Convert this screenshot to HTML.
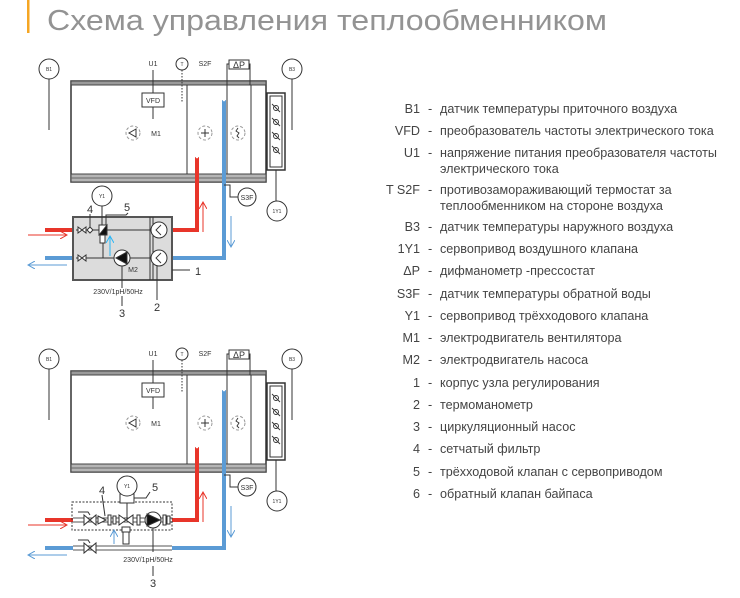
<!DOCTYPE html>
<html><head><meta charset="utf-8"><style>
html,body{margin:0;padding:0;background:#fff;}
svg{display:block;font-family:"Liberation Sans",sans-serif;}
</style></head><body>
<svg width="740" height="598" viewBox="0 0 740 598" xmlns="http://www.w3.org/2000/svg">
<defs>
<marker id="arR" markerWidth="8" markerHeight="8" refX="7" refY="4" orient="auto" markerUnits="userSpaceOnUse"><path d="M0,0 L7,4 L0,8" fill="none" stroke="#e8352a" stroke-width="1"/></marker>
<marker id="arB" markerWidth="8" markerHeight="8" refX="7" refY="4" orient="auto" markerUnits="userSpaceOnUse"><path d="M0,0 L7,4 L0,8" fill="none" stroke="#5b9bd5" stroke-width="1"/></marker>
<marker id="arC" markerWidth="8" markerHeight="8" refX="7" refY="4" orient="auto" markerUnits="userSpaceOnUse"><path d="M0,0 L7,4 L0,8" fill="none" stroke="#29b6f6" stroke-width="1"/></marker>
<g id="ahu" fill="none" stroke="#333" stroke-width="1">
 <circle cx="49" cy="69" r="10"/><line x1="49" y1="79" x2="49" y2="130"/>
 <circle cx="292" cy="69" r="10"/><line x1="292" y1="79" x2="292" y2="130"/>
 <rect x="71" y="81" width="195" height="101" stroke-width="1.5"/>
 <rect x="71" y="81" width="195" height="4" fill="#9a9a9a" stroke="#444"/>
 <rect x="71" y="174" width="195" height="8" fill="#b5b5b5" stroke="#444"/>
 <line x1="71" y1="178" x2="266" y2="178" stroke="#666"/>
 <line x1="187" y1="85" x2="187" y2="174"/>
 <line x1="227" y1="85" x2="227" y2="174"/>
 <line x1="251" y1="85" x2="251" y2="174"/>
 <rect x="267" y="93" width="18" height="77" stroke-width="1.5"/>
 <rect x="270" y="96" width="12" height="71"/>
 <g stroke-width="0.9">
  <circle cx="276" cy="108" r="2.5"/><line x1="272" y1="104" x2="280" y2="112"/>
  <circle cx="276" cy="122" r="2.5"/><line x1="272" y1="118" x2="280" y2="126"/>
  <circle cx="276" cy="136" r="2.5"/><line x1="272" y1="132" x2="280" y2="140"/>
  <circle cx="276" cy="150" r="2.5"/><line x1="272" y1="146" x2="280" y2="154"/>
 </g>
 <line x1="276" y1="170" x2="276" y2="201"/><circle cx="277" cy="211" r="10"/>
 <line x1="153" y1="70" x2="153" y2="93"/>
 <rect x="142" y="93" width="22" height="14"/>
 <line x1="153" y1="107" x2="153" y2="119"/>
 <circle cx="182" cy="64" r="6"/>
 <line x1="182" y1="70" x2="182" y2="103" stroke-dasharray="1.5,1.5"/>
 <rect x="229" y="60" width="20" height="9"/>
 <polyline points="229,64 227,64 227,85"/><polyline points="249,64 250,64 250,85"/>
 <circle cx="133" cy="133" r="7" stroke="#999" stroke-dasharray="3,2"/>
 <path d="M136,129 L129,133 L136,137 Z" stroke="#333"/>
 <circle cx="205" cy="133" r="7" stroke="#999" stroke-dasharray="3,2"/>
 <path d="M205,129 V137 M201,133 H209"/>
 <circle cx="238" cy="133" r="7" stroke="#999" stroke-dasharray="3,2"/>
 <path d="M238,128 l-2,3 l3,2 l-2,3 l2,2" stroke-width="0.9"/>
 <path d="M197,157 V230 H172" stroke="#e8352a" stroke-width="4"/>
 <path d="M224,100 V258 H172" stroke="#5b9bd5" stroke-width="4"/>
 <circle cx="197" cy="157" r="1.3" fill="#fff" stroke="none"/>
 <circle cx="224" cy="100" r="1.3" fill="#fff" stroke="none"/>
 <polyline points="224,185 230,185 230,197 238,197"/>
 <circle cx="247" cy="197" r="9"/>
 <line x1="203" y1="232" x2="203" y2="202" stroke="#e8352a" marker-end="url(#arR)"/>
 <line x1="231" y1="216" x2="231" y2="247" stroke="#5b9bd5" marker-end="url(#arB)"/>
 <line x1="28" y1="235" x2="67" y2="235" stroke="#e8352a" marker-end="url(#arR)"/>
 <line x1="67" y1="265" x2="28" y2="265" stroke="#5b9bd5" marker-end="url(#arB)"/>
 <line x1="45" y1="230" x2="73" y2="230" stroke="#e8352a" stroke-width="4"/>
 <line x1="45" y1="258" x2="73" y2="258" stroke="#5b9bd5" stroke-width="4"/>
</g>
</defs>
<rect x="27" y="0" width="2.5" height="33" fill="#f5a623"/>
<text x="47" y="30" font-size="29" fill="#939393" textLength="560" lengthAdjust="spacingAndGlyphs">Схема управления теплообменником</text>

<use href="#ahu"/>
<use href="#ahu" transform="translate(0,290)"/>

<g font-size="7" fill="#333" text-anchor="middle">
 <text x="49" y="71" font-size="5">B1</text><text x="292" y="71" font-size="5">B3</text>
 <text x="153" y="66">U1</text><text x="153" y="103">VFD</text><text x="182" y="66" font-size="5">T</text>
 <text x="205" y="66">S2F</text><text x="239" y="68" font-size="9">ΔP</text>
 <text x="156" y="136">M1</text><text x="247" y="200">S3F</text><text x="277" y="213" font-size="5">1Y1</text>
 <text x="49" y="361" font-size="5">B1</text><text x="292" y="361" font-size="5">B3</text>
 <text x="153" y="356">U1</text><text x="153" y="393">VFD</text><text x="182" y="356" font-size="5">T</text>
 <text x="205" y="356">S2F</text><text x="239" y="358" font-size="9">ΔP</text>
 <text x="156" y="426">M1</text><text x="247" y="490">S3F</text><text x="277" y="503" font-size="5">1Y1</text>
</g>

<g fill="none" stroke="#333" stroke-width="1">
 <rect x="73" y="217" width="99" height="63" fill="#dcdcdc" stroke="#555" stroke-width="2"/>
 <line x1="150" y1="217" x2="150" y2="280"/><line x1="153" y1="217" x2="153" y2="280"/>
 <line x1="76" y1="230" x2="151" y2="230"/><line x1="76" y1="258" x2="151" y2="258"/>
 <line x1="103" y1="230" x2="103" y2="258"/>
 <path d="M78,227 L86,233 L86,227 L78,233 Z" fill="#fff"/>
 <path d="M78,255 L86,261 L86,255 L78,261 Z" fill="#fff"/>
 <path d="M90,227 L93,230 L90,233 L87,230 Z" fill="#fff"/>
 <rect x="99" y="225" width="8" height="10" fill="#fff"/>
 <path d="M99,235 L107,225 L107,235 Z" fill="#111"/>
 <rect x="100" y="235" width="5" height="8" fill="#fff"/>
 <line x1="110" y1="256" x2="110" y2="236" stroke="#29b6f6" marker-end="url(#arC)"/>
 <circle cx="122" cy="258" r="8" fill="#fff"/>
 <path d="M116,258 L127,252 L127,264 Z" fill="#111"/>
 <circle cx="159" cy="230" r="8" fill="#fff"/><path d="M161,225 L156,230 L161,235" stroke-width="0.9"/>
 <circle cx="159" cy="258" r="8" fill="#fff"/><path d="M161,253 L156,258 L161,263" stroke-width="0.9"/>
 <circle cx="102" cy="196" r="10" fill="#fff"/><line x1="102" y1="206" x2="102" y2="225"/>
 <line x1="90" y1="214" x2="90" y2="227"/>
 <polyline points="106,225 106,215 126,215 128,213"/>
 <polyline points="172,270 190,270"/>
 <line x1="122" y1="266" x2="122" y2="288"/>
 <line x1="157" y1="266" x2="157" y2="300"/>
 <line x1="122" y1="296" x2="122" y2="306"/>
</g>
<g font-size="7" fill="#333" text-anchor="middle">
 <text x="102" y="198" font-size="5">Y1</text><text x="133" y="272">M2</text>
 <text x="118" y="294">230V/1pH/50Hz</text>
</g>
<g font-size="11" fill="#333" text-anchor="middle">
 <text x="90" y="213">4</text><text x="127" y="211">5</text><text x="198" y="275">1</text>
 <text x="157" y="311">2</text><text x="122" y="317">3</text>
</g>

<g fill="none" stroke="#333" stroke-width="1">
 <rect x="72" y="502" width="100" height="28" stroke-dasharray="2,1.5"/>
 <line x1="73" y1="518" x2="172" y2="518" stroke="#555"/><line x1="73" y1="522" x2="172" y2="522" stroke="#555"/>
 <line x1="73" y1="546" x2="172" y2="546" stroke="#555"/><line x1="73" y1="550" x2="172" y2="550" stroke="#555"/>
 <path d="M84,515 L96,525 L96,515 L84,525 Z" fill="#fff"/><polyline points="78,512 88,512 90,515" />
 <path d="M84,543 L96,553 L96,543 L84,553 Z" fill="#fff"/><polyline points="78,540 88,540 90,543" />
 <path d="M98,516 L106,520 L98,524 Z" fill="#fff"/>
 <rect x="108" y="515" width="3" height="10" fill="#fff"/><rect x="113" y="516" width="3" height="8" fill="#fff"/>
 <path d="M119,515 L133,525 L133,515 L119,525 Z" fill="#fff"/>
 <rect x="120" y="494" width="14" height="9" fill="#fff"/><line x1="127" y1="503" x2="127" y2="520"/>
 <rect x="122" y="527" width="8" height="5" fill="#fff"/>
 <rect x="123" y="532" width="6" height="12" fill="#fff"/>
 <rect x="137" y="515" width="3" height="10" fill="#fff"/>
 <circle cx="153" cy="520" r="8" fill="#fff"/>
 <path d="M147,514 L160,520 L147,526 Z" fill="#111"/>
 <rect x="163" y="515" width="3" height="10" fill="#fff"/><rect x="167" y="516" width="3" height="8" fill="#fff"/>
 <line x1="114" y1="544" x2="114" y2="530" stroke="#5b9bd5" marker-end="url(#arB)"/>
 <circle cx="127" cy="486" r="10" fill="#fff"/>
 <line x1="102" y1="495" x2="105" y2="516"/>
 <polyline points="134,498 146,498 150,492"/>
 <line x1="153" y1="528" x2="153" y2="552"/>
 <line x1="153" y1="566" x2="153" y2="576"/>
</g>
<g font-size="7" fill="#333" text-anchor="middle">
 <text x="127" y="488" font-size="5">Y1</text>
 <text x="148" y="562">230V/1pH/50Hz</text>
</g>
<g font-size="11" fill="#333" text-anchor="middle">
 <text x="102" y="494">4</text><text x="155" y="491">5</text><text x="153" y="587">3</text>
</g>

<g font-size="12.6" fill="#444">
 <g text-anchor="end">
  <text x="420" y="113">B1</text><text x="420" y="135">VFD</text><text x="420" y="157">U1</text>
  <text x="420" y="194">T S2F</text><text x="420" y="231">B3</text><text x="420" y="253">1Y1</text>
  <text x="420" y="275">ΔP</text><text x="420" y="298">S3F</text><text x="420" y="320">Y1</text>
  <text x="420" y="342">M1</text><text x="420" y="364">M2</text><text x="420" y="387">1</text>
  <text x="420" y="409">2</text><text x="420" y="431">3</text><text x="420" y="453">4</text>
  <text x="420" y="476">5</text><text x="420" y="498">6</text>
 </g>
 <g>
  <text x="428" y="113">-</text><text x="428" y="135">-</text><text x="428" y="157">-</text>
  <text x="428" y="194">-</text><text x="428" y="231">-</text><text x="428" y="253">-</text>
  <text x="428" y="275">-</text><text x="428" y="298">-</text><text x="428" y="320">-</text>
  <text x="428" y="342">-</text><text x="428" y="364">-</text><text x="428" y="387">-</text>
  <text x="428" y="409">-</text><text x="428" y="431">-</text><text x="428" y="453">-</text>
  <text x="428" y="476">-</text><text x="428" y="498">-</text>
 </g>
 <g>
  <text x="440" y="113">датчик температуры приточного воздуха</text>
  <text x="440" y="135">преобразователь частоты электрического тока</text>
  <text x="440" y="157">напряжение питания преобразователя частоты</text>
  <text x="440" y="173">электрического тока</text>
  <text x="440" y="194">противозамораживающий термостат за</text>
  <text x="440" y="210">теплообменником на стороне воздуха</text>
  <text x="440" y="231">датчик температуры наружного воздуха</text>
  <text x="440" y="253">сервопривод воздушного клапана</text>
  <text x="440" y="275">дифманометр -прессостат</text>
  <text x="440" y="298">датчик температуры обратной воды</text>
  <text x="440" y="320">сервопривод трёхходового клапана</text>
  <text x="440" y="342">электродвигатель вентилятора</text>
  <text x="440" y="364">электродвигатель насоса</text>
  <text x="440" y="387">корпус узла регулирования</text>
  <text x="440" y="409">термоманометр</text>
  <text x="440" y="431">циркуляционный насос</text>
  <text x="440" y="453">сетчатый фильтр</text>
  <text x="440" y="476">трёхходовой клапан с сервоприводом</text>
  <text x="440" y="498">обратный клапан байпаса</text>
 </g>
</g>
</svg>
</body></html>
